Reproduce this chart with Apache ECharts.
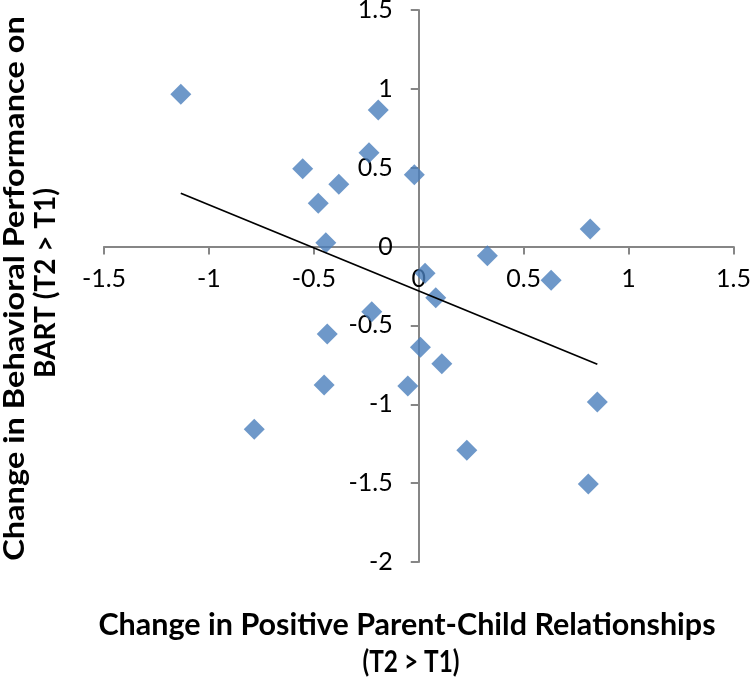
<!DOCTYPE html>
<html><head><meta charset="utf-8">
<script src="https://cdn.jsdelivr.net/npm/echarts@6/dist/echarts.min.js"></script>
<style>html,body{margin:0;padding:0;background:#fff}#c{width:750px;height:682px}</style>
</head><body><div id="c"></div>
<script>
// Data
const xValues = [-1.134, -0.193, -0.237, -0.553, -0.381, -0.479, -0.443, -0.021,
                 0.030, 0.081, -0.224, -0.436, 0.008, 0.110, -0.052, -0.451,
                 -0.784, 0.229, 0.817, 0.327, 0.631, 0.851, 0.808];
const yValues = [0.966, 0.866, 0.595, 0.494, 0.395, 0.275, 0.025, 0.456,
                 -0.169, -0.324, -0.413, -0.554, -0.639, -0.743, -0.884, -0.878,
                 -1.159, -1.292, 0.112, -0.058, -0.214, -0.985, -1.505];
const trendX = [-1.134, 0.851];
const trendY = [0.338, -0.746];
const xAxisRange = [-1.5, 1.5];
const yAxisRange = [-2, 1.5];
const tickStep = 0.5;
const xTitleLines = ['Change in Positive Parent-Child Relationships', '(T2 > T1)'];
const yTitleLines = ['Change in Behavioral Performance on', 'BART (T2 > T1)'];

const points = xValues.map((x, i) => [x, yValues[i]]);
const trend = trendX.map((x, i) => [x, trendY[i]]);

const axisColor = '#868686';
const gridBox = { left: 104, right: 16.5, top: 10, bottom: 120 };
const W = 750, H = 682;
const plotW = W - gridBox.left - gridBox.right;
const plotH = H - gridBox.top - gridBox.bottom;
// shift axes so that they cross at the zero point (computed from the ranges)
const yZeroFromBottom = plotH * (0 - yAxisRange[0]) / (yAxisRange[1] - yAxisRange[0]);
const xZeroFromLeft = plotW * (0 - xAxisRange[0]) / (xAxisRange[1] - xAxisRange[0]);

const chart = echarts.init(document.getElementById('c'));
chart.setOption({
  animation: false,
  backgroundColor: '#fff',
  grid: Object.assign({ outerBoundsMode: 'none', containLabel: false }, gridBox),
  xAxis: {
    type: 'value', min: xAxisRange[0], max: xAxisRange[1], interval: tickStep,
    position: 'bottom', offset: -yZeroFromBottom,
    axisLine: { show: true, onZero: false, lineStyle: { color: axisColor, width: 2 } },
    axisTick: { show: true, length: 8, lineStyle: { color: axisColor, width: 2 } },
    axisLabel: { margin: 20, color: '#000', fontFamily: 'Lato', fontSize: 25 },
    splitLine: { show: false }
  },
  yAxis: {
    type: 'value', min: yAxisRange[0], max: yAxisRange[1], interval: tickStep,
    position: 'left', offset: -xZeroFromLeft,
    axisLine: { show: true, onZero: false, lineStyle: { color: axisColor, width: 2 } },
    axisTick: { show: true, length: 8, lineStyle: { color: axisColor, width: 2 } },
    axisLabel: { margin: 26, color: '#000', fontFamily: 'Lato', fontSize: 25 },
    splitLine: { show: false }
  },
  series: [
    { type: 'scatter', data: points, symbol: 'diamond', symbolSize: 21,
      itemStyle: { color: '#4A7EBB' }, z: 2 },
    { type: 'line', data: trend, symbol: 'none', z: 3,
      lineStyle: { color: '#000', width: 1.8 } }
  ],
  graphic: [
    { type: 'text', x: 407, y: 625, style: { text: xTitleLines[0], font: 'bold 30.5px Lato', fill: '#000', align: 'center', verticalAlign: 'middle' } },
    { type: 'text', x: 411, y: 662, scaleX: 0.8, style: { text: xTitleLines[1], font: 'bold 30.5px Lato', fill: '#000', align: 'center', verticalAlign: 'middle' } },
    { type: 'text', x: 15, y: 288.5, rotation: Math.PI / 2, scaleX: 1.164, style: { text: yTitleLines[0], font: 'bold 28px Lato', fill: '#000', align: 'center', verticalAlign: 'middle' } },
    { type: 'text', x: 46, y: 283, rotation: Math.PI / 2, scaleX: 1.0, style: { text: yTitleLines[1], font: 'bold 28px Lato', fill: '#000', align: 'center', verticalAlign: 'middle' } }
  ]
});
</script></body></html>
